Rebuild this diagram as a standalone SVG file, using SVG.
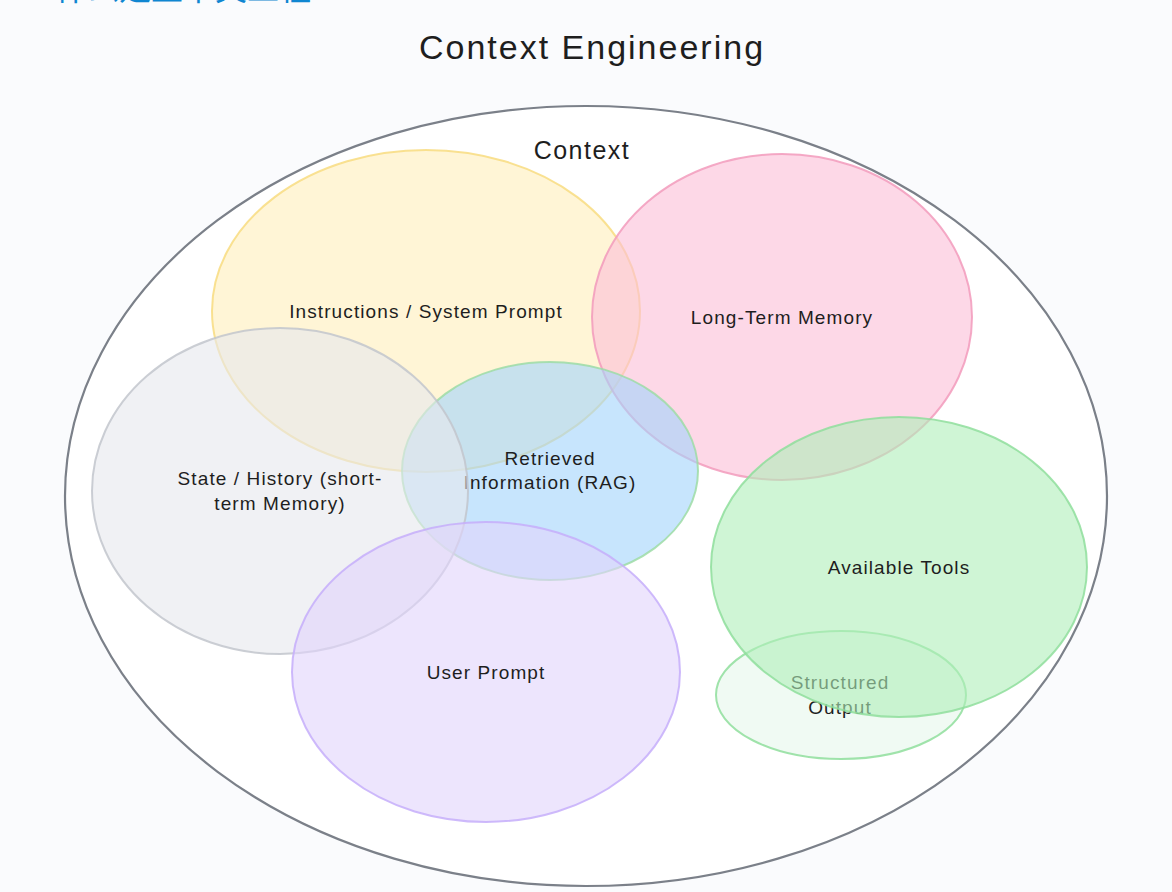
<svg xmlns="http://www.w3.org/2000/svg" width="1172" height="892" viewBox="0 0 1172 892">
<style>
  .t { font-family: "Liberation Sans", "Noto Sans", sans-serif; fill: #1e1e1e; text-anchor: middle; dominant-baseline: central; }
  .lbl { font-size: 19px; letter-spacing: 1.1px; }
  .e { stroke-width: 2; fill-opacity: 0.6; stroke-opacity: 0.85; }
</style>
<rect x="0" y="0" width="1172" height="892" fill="#fafbfd"/>
<text x="55" y="0" font-family="Noto Sans CJK SC, sans-serif" font-size="32" fill="#0f86d1">什么是上下文工程</text>
<text class="t" x="592" y="47" font-size="34" letter-spacing="2">Context Engineering</text>

<g id="context">
  <ellipse cx="586" cy="496" rx="521" ry="390" fill="#ffffff" stroke="#7b8089" stroke-width="2.2"/>
  <text class="t" x="582" y="150" font-size="25" letter-spacing="1.5">Context</text>
</g>

<g id="instructions">
  <ellipse class="e" cx="426" cy="311" rx="214" ry="161" fill="#ffeebb" stroke="#f8dc80"/>
  <text class="t lbl" x="426" y="311">Instructions / System Prompt</text>
</g>

<g id="long-term-memory">
  <ellipse class="e" cx="782" cy="317" rx="190" ry="163" fill="#fcbed7" stroke="#f29bbc"/>
  <text class="t lbl" x="782" y="317">Long-Term Memory</text>
</g>

<g id="rag">
  <ellipse class="e" cx="550" cy="471" rx="148" ry="109" fill="#a2d4fc" stroke="#9ddca6"/>
  <text class="t lbl" x="550" y="458">Retrieved</text>
  <text class="t lbl" x="550" y="482">Information (RAG)</text>
</g>

<g id="state-history">
  <ellipse class="e" cx="280" cy="491" rx="188" ry="163" fill="#e6e8ed" stroke="#c2c6cc"/>
  <text class="t lbl" x="280" y="478">State / History (short-</text>
  <text class="t lbl" x="280" y="503">term Memory)</text>
</g>

<g id="user-prompt">
  <ellipse class="e" cx="486" cy="672" rx="194" ry="150" fill="#e1d4fc" stroke="#c6aefa"/>
  <text class="t lbl" x="486" y="672">User Prompt</text>
</g>

<g id="structured-output">
  <ellipse class="e" cx="841" cy="695" rx="125" ry="64" fill="#e6f7eb" stroke="#8fde9c"/>
  <text class="t lbl" x="840" y="682">Structured</text>
  <text class="t lbl" x="840" y="707">Output</text>
</g>

<g id="available-tools">
  <ellipse class="e" cx="899" cy="567" rx="188" ry="150" fill="#afeeb9" stroke="#8fde9c"/>
  <text class="t lbl" x="899" y="567">Available Tools</text>
</g>

<g id="connectors"></g>
</svg>
